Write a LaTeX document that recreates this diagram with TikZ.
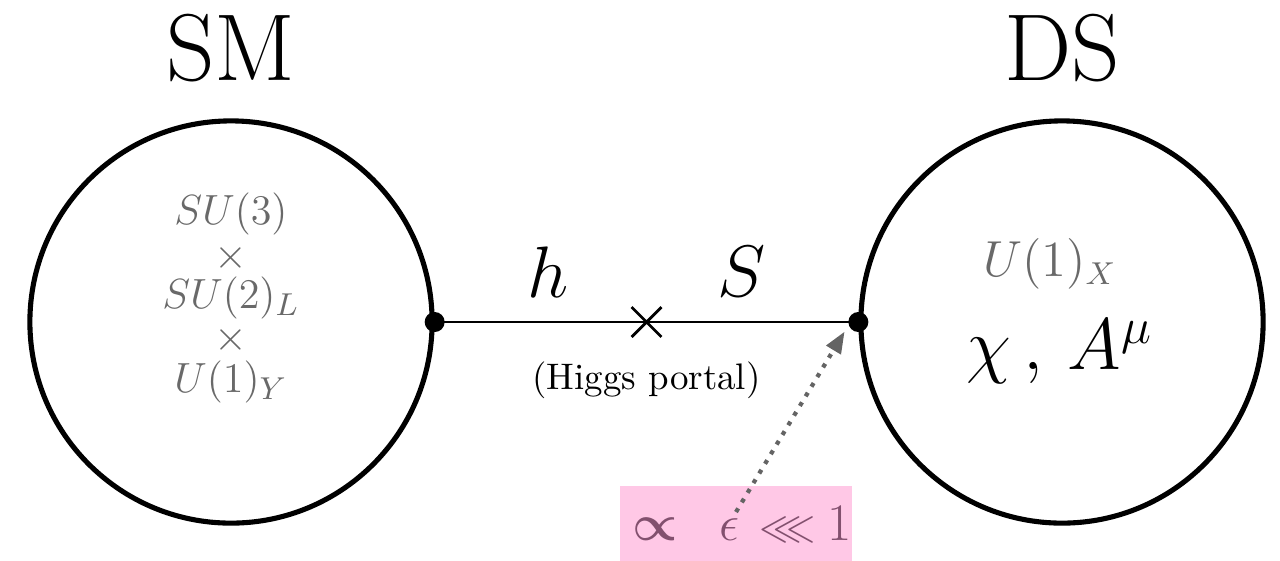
\documentclass[tikz,border=0pt]{standalone}
\usepackage{amsmath}
\usepackage{amssymb}
\usepackage{tikz}
\usetikzlibrary{shapes.misc, arrows.meta, positioning, calc}
\definecolor{groupgray}{RGB}{105, 105, 105}
\definecolor{portalpink}{RGB}{255, 200, 230}
\definecolor{portaltext}{RGB}{130, 80, 110}
\definecolor{hintgray}{RGB}{100, 100, 100}

\tikzset{
    sector/.style={circle, draw=black, line width=1.45pt, minimum size=4.02cm, inner sep=0pt},
    vertex/.style={circle, fill=black, inner sep=0pt, minimum size=0.2cm},
    grouptext/.style={text=groupgray, font=\fontsize{12.5}{15}\selectfont, inner sep=0pt},
}

\begin{document}
\begin{tikzpicture}[x=0.01cm, y=-0.01cm]
    \useasboundingbox (0,0) rectangle (1280,560);

    % the two sectors
    \node[sector] (sm) at (231,322) {};
    \node[sector] (ds) at (1062,322) {};
    \node[font=\fontsize{27}{30}\selectfont] (smlabel) at (231,48) {SM};
    \node[font=\fontsize{27}{30}\selectfont] (dslabel) at (1062,48) {DS};

    % gauge groups
    \foreach \y/\name/\txt in {214/gthree/$SU(3)$, 258/gx1/$\times$, 298/gtwo/$SU(2)_L$, 340/gx2/$\times$, 382/gone/$U(1)_Y$}
        \node[grouptext] (\name) at (231,\y) {\txt};
    \node[grouptext, font=\fontsize{13.5}{16}\selectfont] (dsgroup) at (1050,264) {$U(1)_X$};
    \node[font=\fontsize{21}{26}\selectfont] (dsfields) at (1060,352) {$\chi\,,\,A^{\mu}$};

    % portal line
    \draw[line width=0.8pt] (sm.east) -- (ds.west);
    \node[vertex] (smdot) at (sm.east) {};
    \node[vertex] (dsdot) at (ds.west) {};
    \node[cross out, draw=black, line width=0.8pt, minimum size=0.27cm, inner sep=0pt] (mix) at ($(sm.east)!0.5!(ds.west)$) {};
    \node[font=\fontsize{20}{24}\selectfont] (hfield) at (548,272) {$h$};
    \node[font=\fontsize{20}{24}\selectfont] (sfield) at (742,272) {$S$};
    \node[font=\fontsize{10.5}{13}\selectfont, below=0.12cm of mix] (portal) {(Higgs portal)};

    % coupling box
    \node[fill=portalpink, minimum width=2.32cm, minimum height=0.76cm, inner sep=0pt] (coupling) at (736,524) {};
    \node[text=portaltext, font=\fontsize{15}{18}\selectfont] (couplingtext) at (742,524)
          {$\boldsymbol{\propto}$\hspace{0.42cm}$\epsilon$\hspace{0.2cm}{\fontsize{12}{12}\selectfont$\lll$}\hspace{0.12cm}1};
    \coordinate (tail) at (736,512);
    \coordinate (head) at ($(dsdot)+(-14,10)$);
    \draw[hintgray, line width=1.2pt, dotted, -{Triangle[length=6pt, width=5pt, line width=0pt]}] (tail) -- (head);
\end{tikzpicture}
\end{document}
